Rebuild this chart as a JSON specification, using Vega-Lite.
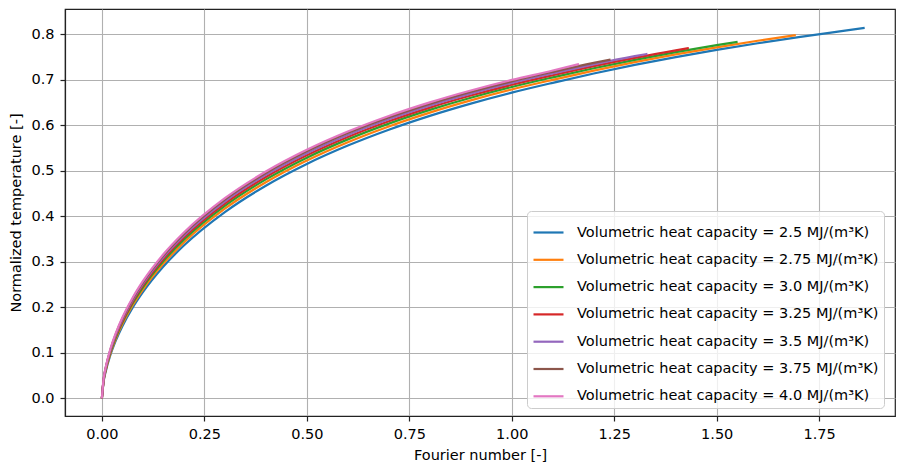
{
  "$schema": "https://vega.github.io/schema/vega-lite/v6.json",
  "width": 830,
  "height": 407,
  "autosize": {"type": "none"},
  "padding": {"left": 65, "top": 9, "right": 2, "bottom": 50},
  "background": "white",
  "config": {
    "font": "DejaVu Sans",
    "view": {"stroke": "#222222", "strokeWidth": 1.2},
    "axis": {
      "labelFont": "DejaVu Sans", "labelFontSize": 14.5, "labelColor": "#000000",
      "titleFont": "DejaVu Sans", "titleFontSize": 14.5, "titleFontWeight": "normal", "titleColor": "#000000",
      "domainColor": "#222222", "domainWidth": 1.2,
      "tickColor": "#222222", "tickSize": 5, "tickWidth": 1.2,
      "gridColor": "#b0b0b0", "gridWidth": 1.1, "gridOpacity": 1
    },
    "legend": {
      "labelFont": "DejaVu Sans", "labelFontSize": 14.5, "labelColor": "#000000", "labelLimit": 0,
      "symbolType": "stroke", "symbolSize": 900, "symbolStrokeWidth": 2.2,
      "labelOffset": 12, "padding": 5, "rowPadding": 4.3,
      "fillColor": "rgba(255,255,255,0.8)", "strokeColor": "#cccccc", "cornerRadius": 4
    }
  },
  "data": {"values": [
    {"c": "2.5", "fo": 0, "t": 0}, {"c": "2.5", "fo": 0.004, "t": 0.0351}, {"c": "2.5", "fo": 0.01, "t": 0.0613}, {"c": "2.5", "fo": 0.02, "t": 0.0929}, {"c": "2.5", "fo": 0.035, "t": 0.129}, {"c": "2.5", "fo": 0.05, "t": 0.1584}, {"c": "2.5", "fo": 0.075, "t": 0.1991}, {"c": "2.5", "fo": 0.1, "t": 0.2333}, {"c": "2.5", "fo": 0.15, "t": 0.2897}, {"c": "2.5", "fo": 0.2, "t": 0.3358}, {"c": "2.5", "fo": 0.3, "t": 0.4094}, {"c": "2.5", "fo": 0.4, "t": 0.4674}, {"c": "2.5", "fo": 0.5, "t": 0.5152}, {"c": "2.5", "fo": 0.6, "t": 0.5556}, {"c": "2.5", "fo": 0.7, "t": 0.5905}, {"c": "2.5", "fo": 0.8, "t": 0.621}, {"c": "2.5", "fo": 0.9, "t": 0.648}, {"c": "2.5", "fo": 1.0, "t": 0.6721}, {"c": "2.5", "fo": 1.1, "t": 0.6937}, {"c": "2.5", "fo": 1.2, "t": 0.7142}, {"c": "2.5", "fo": 1.3, "t": 0.733}, {"c": "2.5", "fo": 1.4, "t": 0.7502}, {"c": "2.5", "fo": 1.5, "t": 0.766}, {"c": "2.5", "fo": 1.6, "t": 0.7806}, {"c": "2.5", "fo": 1.7, "t": 0.7941}, {"c": "2.5", "fo": 1.8, "t": 0.8068}, {"c": "2.5", "fo": 1.861, "t": 0.8144},
    {"c": "2.75", "fo": 0, "t": 0}, {"c": "2.75", "fo": 0.004, "t": 0.0366}, {"c": "2.75", "fo": 0.01, "t": 0.0636}, {"c": "2.75", "fo": 0.02, "t": 0.0961}, {"c": "2.75", "fo": 0.035, "t": 0.133}, {"c": "2.75", "fo": 0.05, "t": 0.163}, {"c": "2.75", "fo": 0.075, "t": 0.2044}, {"c": "2.75", "fo": 0.1, "t": 0.2391}, {"c": "2.75", "fo": 0.15, "t": 0.2962}, {"c": "2.75", "fo": 0.2, "t": 0.3427}, {"c": "2.75", "fo": 0.3, "t": 0.4168}, {"c": "2.75", "fo": 0.4, "t": 0.475}, {"c": "2.75", "fo": 0.5, "t": 0.5228}, {"c": "2.75", "fo": 0.6, "t": 0.5631}, {"c": "2.75", "fo": 0.7, "t": 0.5978}, {"c": "2.75", "fo": 0.8, "t": 0.6282}, {"c": "2.75", "fo": 0.9, "t": 0.655}, {"c": "2.75", "fo": 1.0, "t": 0.6789}, {"c": "2.75", "fo": 1.1, "t": 0.7002}, {"c": "2.75", "fo": 1.2, "t": 0.7205}, {"c": "2.75", "fo": 1.3, "t": 0.7391}, {"c": "2.75", "fo": 1.4, "t": 0.7561}, {"c": "2.75", "fo": 1.5, "t": 0.7717}, {"c": "2.75", "fo": 1.6, "t": 0.7861}, {"c": "2.75", "fo": 1.693, "t": 0.7985},
    {"c": "3.0", "fo": 0, "t": 0}, {"c": "3.0", "fo": 0.004, "t": 0.0379}, {"c": "3.0", "fo": 0.01, "t": 0.0656}, {"c": "3.0", "fo": 0.02, "t": 0.0987}, {"c": "3.0", "fo": 0.035, "t": 0.1364}, {"c": "3.0", "fo": 0.05, "t": 0.1669}, {"c": "3.0", "fo": 0.075, "t": 0.2089}, {"c": "3.0", "fo": 0.1, "t": 0.244}, {"c": "3.0", "fo": 0.15, "t": 0.3016}, {"c": "3.0", "fo": 0.2, "t": 0.3485}, {"c": "3.0", "fo": 0.3, "t": 0.423}, {"c": "3.0", "fo": 0.4, "t": 0.4813}, {"c": "3.0", "fo": 0.5, "t": 0.5291}, {"c": "3.0", "fo": 0.6, "t": 0.5693}, {"c": "3.0", "fo": 0.7, "t": 0.604}, {"c": "3.0", "fo": 0.8, "t": 0.6341}, {"c": "3.0", "fo": 0.9, "t": 0.6608}, {"c": "3.0", "fo": 1.0, "t": 0.6845}, {"c": "3.0", "fo": 1.1, "t": 0.7057}, {"c": "3.0", "fo": 1.2, "t": 0.7258}, {"c": "3.0", "fo": 1.3, "t": 0.7442}, {"c": "3.0", "fo": 1.4, "t": 0.761}, {"c": "3.0", "fo": 1.5, "t": 0.7764}, {"c": "3.0", "fo": 1.551, "t": 0.7836},
    {"c": "3.25", "fo": 0, "t": 0}, {"c": "3.25", "fo": 0.004, "t": 0.0389}, {"c": "3.25", "fo": 0.01, "t": 0.0672}, {"c": "3.25", "fo": 0.02, "t": 0.101}, {"c": "3.25", "fo": 0.035, "t": 0.1392}, {"c": "3.25", "fo": 0.05, "t": 0.1701}, {"c": "3.25", "fo": 0.075, "t": 0.2126}, {"c": "3.25", "fo": 0.1, "t": 0.2481}, {"c": "3.25", "fo": 0.15, "t": 0.3062}, {"c": "3.25", "fo": 0.2, "t": 0.3535}, {"c": "3.25", "fo": 0.3, "t": 0.4282}, {"c": "3.25", "fo": 0.4, "t": 0.4866}, {"c": "3.25", "fo": 0.5, "t": 0.5344}, {"c": "3.25", "fo": 0.6, "t": 0.5746}, {"c": "3.25", "fo": 0.7, "t": 0.6091}, {"c": "3.25", "fo": 0.8, "t": 0.6392}, {"c": "3.25", "fo": 0.9, "t": 0.6657}, {"c": "3.25", "fo": 1.0, "t": 0.6893}, {"c": "3.25", "fo": 1.1, "t": 0.7103}, {"c": "3.25", "fo": 1.2, "t": 0.7303}, {"c": "3.25", "fo": 1.3, "t": 0.7485}, {"c": "3.25", "fo": 1.4, "t": 0.7651}, {"c": "3.25", "fo": 1.432, "t": 0.77},
    {"c": "3.5", "fo": 0, "t": 0}, {"c": "3.5", "fo": 0.004, "t": 0.0398}, {"c": "3.5", "fo": 0.01, "t": 0.0686}, {"c": "3.5", "fo": 0.02, "t": 0.1029}, {"c": "3.5", "fo": 0.035, "t": 0.1416}, {"c": "3.5", "fo": 0.05, "t": 0.173}, {"c": "3.5", "fo": 0.075, "t": 0.2159}, {"c": "3.5", "fo": 0.1, "t": 0.2517}, {"c": "3.5", "fo": 0.15, "t": 0.3102}, {"c": "3.5", "fo": 0.2, "t": 0.3577}, {"c": "3.5", "fo": 0.3, "t": 0.4327}, {"c": "3.5", "fo": 0.4, "t": 0.4912}, {"c": "3.5", "fo": 0.5, "t": 0.539}, {"c": "3.5", "fo": 0.6, "t": 0.5791}, {"c": "3.5", "fo": 0.7, "t": 0.6136}, {"c": "3.5", "fo": 0.8, "t": 0.6436}, {"c": "3.5", "fo": 0.9, "t": 0.6699}, {"c": "3.5", "fo": 1.0, "t": 0.6934}, {"c": "3.5", "fo": 1.1, "t": 0.7143}, {"c": "3.5", "fo": 1.2, "t": 0.7341}, {"c": "3.5", "fo": 1.3, "t": 0.7522}, {"c": "3.5", "fo": 1.331, "t": 0.7573},
    {"c": "3.75", "fo": 0, "t": 0}, {"c": "3.75", "fo": 0.004, "t": 0.0406}, {"c": "3.75", "fo": 0.01, "t": 0.0698}, {"c": "3.75", "fo": 0.02, "t": 0.1045}, {"c": "3.75", "fo": 0.035, "t": 0.1438}, {"c": "3.75", "fo": 0.05, "t": 0.1754}, {"c": "3.75", "fo": 0.075, "t": 0.2187}, {"c": "3.75", "fo": 0.1, "t": 0.2547}, {"c": "3.75", "fo": 0.15, "t": 0.3136}, {"c": "3.75", "fo": 0.2, "t": 0.3613}, {"c": "3.75", "fo": 0.3, "t": 0.4366}, {"c": "3.75", "fo": 0.4, "t": 0.4951}, {"c": "3.75", "fo": 0.5, "t": 0.5429}, {"c": "3.75", "fo": 0.6, "t": 0.5831}, {"c": "3.75", "fo": 0.7, "t": 0.6174}, {"c": "3.75", "fo": 0.8, "t": 0.6473}, {"c": "3.75", "fo": 0.9, "t": 0.6736}, {"c": "3.75", "fo": 1.0, "t": 0.6969}, {"c": "3.75", "fo": 1.1, "t": 0.7177}, {"c": "3.75", "fo": 1.2, "t": 0.7374}, {"c": "3.75", "fo": 1.241, "t": 0.7448},
    {"c": "4.0", "fo": 0, "t": 0}, {"c": "4.0", "fo": 0.004, "t": 0.0413}, {"c": "4.0", "fo": 0.01, "t": 0.0709}, {"c": "4.0", "fo": 0.02, "t": 0.106}, {"c": "4.0", "fo": 0.035, "t": 0.1456}, {"c": "4.0", "fo": 0.05, "t": 0.1775}, {"c": "4.0", "fo": 0.075, "t": 0.2211}, {"c": "4.0", "fo": 0.1, "t": 0.2574}, {"c": "4.0", "fo": 0.15, "t": 0.3166}, {"c": "4.0", "fo": 0.2, "t": 0.3645}, {"c": "4.0", "fo": 0.3, "t": 0.44}, {"c": "4.0", "fo": 0.4, "t": 0.4986}, {"c": "4.0", "fo": 0.5, "t": 0.5464}, {"c": "4.0", "fo": 0.6, "t": 0.5865}, {"c": "4.0", "fo": 0.7, "t": 0.6208}, {"c": "4.0", "fo": 0.8, "t": 0.6506}, {"c": "4.0", "fo": 0.9, "t": 0.6768}, {"c": "4.0", "fo": 1.0, "t": 0.7}, {"c": "4.0", "fo": 1.1, "t": 0.7207}, {"c": "4.0", "fo": 1.164, "t": 0.735}
  ]},
  "mark": {"type": "line", "strokeWidth": 2.2, "interpolate": "monotone", "clip": true},
  "encoding": {
    "x": {
      "field": "fo", "type": "quantitative",
      "scale": {"domain": [-0.09, 1.935], "nice": false, "zero": false},
      "axis": {"title": "Fourier number [-]", "values": [0, 0.25, 0.5, 0.75, 1.0, 1.25, 1.5, 1.75], "format": ".2f", "labelPadding": 6, "titlePadding": 8, "labelFlush": false}
    },
    "y": {
      "field": "t", "type": "quantitative",
      "scale": {"domain": [-0.039, 0.856], "nice": false, "zero": false},
      "axis": {"title": "Normalized temperature [-]", "values": [0, 0.1, 0.2, 0.3, 0.4, 0.5, 0.6, 0.7, 0.8], "format": ".1f", "labelPadding": 6, "titlePadding": 7, "labelFlush": false}
    },
    "color": {
      "field": "c", "type": "nominal",
      "scale": {"domain": ["2.5", "2.75", "3.0", "3.25", "3.5", "3.75", "4.0"], "range": ["#1f77b4", "#ff7f0e", "#2ca02c", "#d62728", "#9467bd", "#8c564b", "#e377c2"]},
      "legend": {"title": null, "orient": "none", "legendX": 462, "legendY": 202, "labelExpr": "'Volumetric heat capacity = ' + datum.label + ' MJ/(m³K)'"}
    }
  }
}
